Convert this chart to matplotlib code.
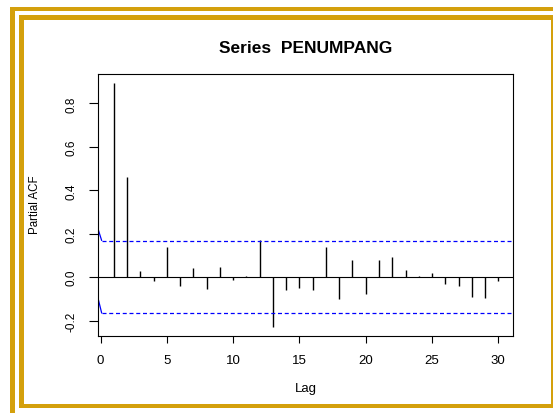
import matplotlib
matplotlib.use("Agg")
import matplotlib.pyplot as plt
from matplotlib.patches import Rectangle

# ---- data ----
lags = list(range(1, 31))
pacf_vals = [0.892, 0.462, 0.028, -0.018, 0.138, -0.041, 0.043, -0.054, 0.046, -0.011,
             0.006, 0.173, -0.230, -0.057, -0.048, -0.057, 0.140, -0.100, 0.079, -0.076,
             0.079, 0.094, 0.032, 0.006, 0.020, -0.031, -0.039, -0.091, -0.097, -0.018]
ci = 0.167
ci_start_upper = 0.218
ci_start_lower = -0.102
xticks = [0, 5, 10, 15, 20, 25, 30]
yticks = [-0.2, 0.0, 0.2, 0.4, 0.6, 0.8]
ytick_labels = ["-0.2", "0.0", "0.2", "0.4", "0.6", "0.8"]
title = "Series  PENUMPANG"
xlabel = "Lag"
ylabel = "Partial ACF"

W, H = 553, 414
fig = plt.figure(figsize=(W / 100, H / 100), dpi=100)
fig.patch.set_facecolor("white")
plt.rcParams['font.family'] = ['Liberation Sans', 'DejaVu Sans']

GOLD = "#D4A00C"

def rect(x0, y0, x1, y1, color=GOLD):
    fig.add_artist(Rectangle((x0 / W, 1 - y1 / H), (x1 - x0) / W, (y1 - y0) / H,
                             transform=fig.transFigure, facecolor=color,
                             edgecolor="none", zorder=0))

# frame
rect(10, 7.5, 553, 11.5)      # outer top
rect(10, 7.5, 14.5, 414)      # outer left
rect(19, 16, 553, 21)         # inner top
rect(19, 16, 24, 409)         # inner left
rect(19, 405, 553, 409)       # inner bottom
rect(551, 16, 553, 409)       # inner right (thin)

# axes
left, right, top, bottom = 98.3, 513.3, 75, 337.3
ax = fig.add_axes([left / W, 1 - bottom / H, (right - left) / W, (bottom - top) / H])
ax.set_xlim(-0.173, 31.13)
ax.set_ylim(-0.272, 0.935)

ax.vlines(lags, 0, pacf_vals, colors="black", linewidth=1.0)
ax.axhline(0, color="black", linewidth=0.8)

x_left = -0.173
x_knee = 0.09
for s, v in ((ci_start_upper, ci), (ci_start_lower, -ci)):
    ax.plot([x_left, x_knee], [s, v], color="#0000FF", linewidth=0.9, solid_capstyle="butt")
    ax.plot([x_knee, 31.13], [v, v], color="#0000FF", linewidth=0.9,
            linestyle=(0, (3.2, 2.2)))

ax.set_xticks(xticks)
ax.set_xticklabels([str(t) for t in xticks], fontsize=9.5)
ax.set_yticks(yticks)
ax.set_yticklabels(ytick_labels, fontsize=8.5, rotation=90, va="center")
ax.tick_params(axis="x", length=5, width=0.8, pad=8)
ax.tick_params(axis="y", length=6.5, width=0.8, pad=8.5)
for sp in ax.spines.values():
    sp.set_linewidth(0.8)
    sp.set_color("black")

# texts
fig.text(306 / W, 1 - 52.9 / H, title, ha="center", va="baseline",
         fontsize=12.5, fontweight="bold")
fig.text(306 / W, 1 - 392.2 / H, xlabel, ha="center", va="baseline", fontsize=9.5)
fig.text(35 / W, 1 - 205 / H, ylabel, ha="center", va="center", rotation=90,
         fontsize=8.3)

fig.savefig("out.png", dpi=100)
